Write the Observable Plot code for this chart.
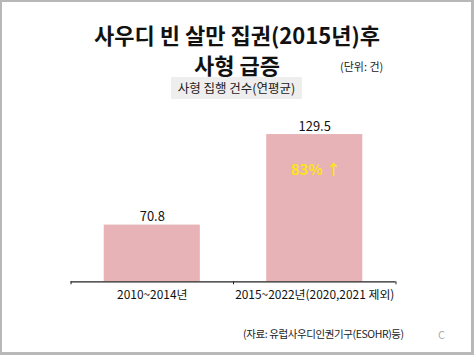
<!DOCTYPE html>
<html>
<head>
<meta charset="utf-8">
<script src="https://cdn.jsdelivr.net/npm/d3@7"></script>
<script src="https://cdn.jsdelivr.net/npm/@observablehq/plot@0.6"></script>
<style>
  html, body { margin: 0; padding: 0; background: #fff; }
  #wrap { position: relative; width: 474px; height: 355px; box-sizing: border-box;
          border: 2px solid #b8b8b8; border-right-width: 3px; border-bottom-width: 3px;
          font-family: "Noto Sans CJK KR", "Noto Sans", sans-serif; color: #111; overflow: hidden; }
  .t { position: absolute; white-space: nowrap; }
  #title { left: 0; width: 470px; text-align: center; top: 17px; font-size: 22px; font-weight: 700; line-height: 30px; }
  #unit { left: 338px; top: 56px; font-size: 11px; color: #222; }
  #sub { left: 169px; top: 75px; width: 131px; height: 22px; background: #eeeeee; font-size: 12.5px;
         text-align: center; line-height: 22px; color: #222; }
  #src { left: 241px; top: 324px; font-size: 10.5px; letter-spacing: -0.4px; color: #222; }
  #cc { left: 436px; top: 324px; font-size: 11px; color: #b0b0b0; }
  #chart { position: absolute; left: -2px; top: 98px; }
</style>
</head>
<body>
<div id="wrap">
  <div class="t" id="title">사우디 빈 살만 집권(2015년)후<br>사형 급증</div>
  <div class="t" id="unit">(단위: 건)</div>
  <div class="t" id="sub">사형 집행 건수(연평균)</div>
  <div id="chart"></div>
  <div class="t" id="src">(자료: 유럽사우디인권기구(ESOHR)등)</div>
  <div class="t" id="cc">C</div>
</div>
<script>
const categories = ["2010~2014년", "2015~2022년(2020,2021 제외)"];
const values = [70.8, 129.5];
const annotations = ["", "83% ↑"];
const axisStart = 34;
const axisEnd = 138.7;

const data = categories.map((c, i) => ({i, category: c, value: values[i], note: annotations[i]}));
const half = 0.2957;

const chart = Plot.plot({
  width: 474,
  height: 212,
  marginLeft: 71,
  marginRight: 76,
  marginTop: 20,
  marginBottom: 29.5,
  style: {fontFamily: '"Noto Sans CJK KR", "Noto Sans", sans-serif', background: "transparent"},
  x: {type: "linear", domain: [-0.5, 1.5], axis: null, label: null},
  y: {domain: [axisStart, axisEnd], axis: null, label: null},
  marks: [
    Plot.rect(data, {x1: d => d.i - half, x2: d => d.i + half, y1: axisStart, y2: "value", fill: "#e7b3b7"}),
    Plot.ruleY([axisStart], {stroke: "#222", strokeWidth: 1.2}),
    Plot.axisX({ticks: [-0.5, 0.5, 1.5], tickSize: 3, tickFormat: () => "", stroke: "#222", label: null}),
    Plot.axisX({ticks: [0, 1], tickSize: 0, tickPadding: 9, tickFormat: i => categories[i], fontSize: 12, fill: "#111", label: null}),
    Plot.text(data, {x: "i", y: "value", text: d => String(d.value), lineAnchor: "bottom", dy: -4, fontSize: 13, fill: "#111"}),
    Plot.text(data.filter(d => d.note), {x: "i", y: "value", text: "note", dy: 36, dx: 1, fontSize: 15, fontWeight: 700, fill: "#fde21c"})
  ]
});
document.getElementById("chart").appendChild(chart);
</script>
</body>
</html>
